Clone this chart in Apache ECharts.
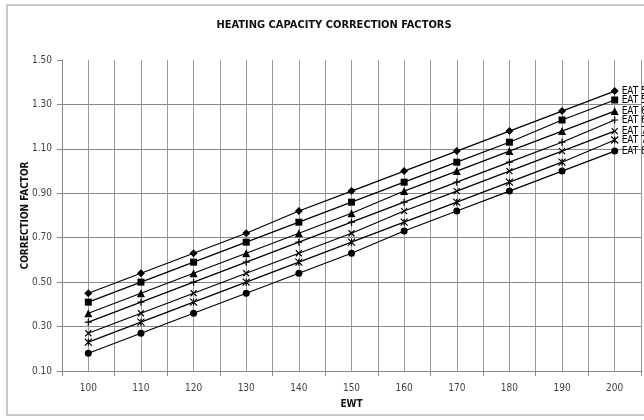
<!DOCTYPE html>
<html>
<head>
<meta charset="utf-8">
<script src="https://cdn.jsdelivr.net/npm/echarts@6/dist/echarts.min.js"></script>
<style>
  html, body { margin: 0; padding: 0; background: #fff; }
  #chart { width: 644px; height: 420px; }
</style>
</head>
<body>
<div id="chart"></div>
<script>
// EWT values along the x axis
var ewt = [100, 110, 120, 130, 140, 150, 160, 170, 180, 190, 200];
// correction factors, one list per entering air temperature
var eat50 = [0.45, 0.54, 0.63, 0.72, 0.82, 0.91, 1.00, 1.09, 1.18, 1.27, 1.36];
var eat55 = [0.41, 0.50, 0.59, 0.68, 0.77, 0.86, 0.95, 1.04, 1.13, 1.23, 1.32];
var eat60 = [0.36, 0.45, 0.54, 0.63, 0.72, 0.81, 0.91, 1.00, 1.09, 1.18, 1.27];
var eat65 = [0.32, 0.41, 0.50, 0.59, 0.68, 0.77, 0.86, 0.95, 1.04, 1.13, 1.23];
var eat70 = [0.27, 0.36, 0.45, 0.54, 0.63, 0.72, 0.82, 0.91, 1.00, 1.09, 1.18];
var eat75 = [0.23, 0.32, 0.41, 0.50, 0.59, 0.68, 0.77, 0.86, 0.95, 1.04, 1.14];
var eat80 = [0.18, 0.27, 0.36, 0.45, 0.54, 0.63, 0.73, 0.82, 0.91, 1.00, 1.09];
var seriesNames = ["EAT 50", "EAT 55", "EAT 60", "EAT 65", "EAT 70", "EAT 75", "EAT 80"];

var chart = echarts.init(document.getElementById("chart"));

function pairs(vals) {
  return vals.map(function (v, i) { return [ewt[i], v]; });
}

var PLUS = "path://M5,0L5,10M0,5L10,5";
var CROSS = "path://M0,0L10,10M10,0L0,10";
var STAR = "path://M0,0L10,10M10,0L0,10M5,0L5,10";

function line(name, vals, symbol, size, stroke) {
  return {
    name: name,
    type: "line",
    xAxisIndex: 0,
    data: pairs(vals),
    symbol: symbol,
    symbolSize: size,
    showAllSymbol: true,
    animation: false,
    lineStyle: { color: "#000", width: 1.2 },
    itemStyle: stroke
      ? { color: "#000", borderColor: "#000", borderWidth: 1.2 }
      : { color: "#000", borderWidth: 0 },
    endLabel: {
      show: true,
      formatter: "{a}",
      distance: 7,
      fontSize: 10,
      color: "#000",
      fontFamily: "DejaVu Sans Condensed"
    }
  };
}

chart.setOption({
  backgroundColor: "#fff",
  title: {
    text: "HEATING CAPACITY CORRECTION FACTORS",
    left: 329,
    top: 15,
    textAlign: "center",
    textStyle: { fontSize: 11, fontWeight: "bold", color: "#111", fontFamily: "DejaVu Sans Condensed" }
  },
  graphic: [{
    type: "rect",
    shape: { x: 7, y: 5, width: 660, height: 410 },
    style: { fill: "none", stroke: "#c8c8c8", lineWidth: 2 },
    silent: true
  }],
  grid: { left: 62, top: 60, right: 2, bottom: 49 },
  xAxis: [{
    type: "value",
    position: "bottom",
    min: 95,
    max: 205,
    interval: 5,
    name: "EWT",
    nameLocation: "middle",
    nameGap: 28,
    nameTextStyle: { fontSize: 10, fontWeight: "bold", color: "#111", fontFamily: "DejaVu Sans Condensed" },
    axisLine: { lineStyle: { color: "#888", width: 1 } },
    axisTick: { show: false },
    axisLabel: {
      fontSize: 10,
      color: "#444",
      margin: 12,
      fontFamily: "DejaVu Sans Condensed",
      formatter: function (v) { return v % 10 === 0 ? String(v) : ""; }
    },
    splitLine: { show: true, showMinLine: false, lineStyle: { color: "#999", width: 1 } }
  }, {
    type: "category",
    position: "bottom",
    data: ewt,
    boundaryGap: true,
    axisLine: { show: false },
    axisTick: { show: true, length: 5, lineStyle: { color: "#888" } },
    axisLabel: { show: false },
    splitLine: { show: false }
  }],
  yAxis: {
    type: "value",
    min: 0.1,
    max: 1.5,
    interval: 0.2,
    name: "CORRECTION FACTOR",
    nameLocation: "middle",
    nameGap: 32,
    nameMoveOverlap: false,
    nameTextStyle: { fontSize: 10, fontWeight: "bold", color: "#111", fontFamily: "DejaVu Sans Condensed" },
    axisLine: { show: true, lineStyle: { color: "#888", width: 1 } },
    axisTick: { show: true, length: 5, lineStyle: { color: "#888" } },
    axisLabel: {
      fontSize: 10,
      color: "#444",
      margin: 10,
      fontFamily: "DejaVu Sans Condensed",
      formatter: function (v) { return v.toFixed(2); }
    },
    splitLine: { show: true, showMinLine: false, showMaxLine: false, lineStyle: { color: "#888", width: 1 } }
  },
  series: [
    line(seriesNames[0], eat50, "diamond", 8, false),
    line(seriesNames[1], eat55, "rect", 7, false),
    line(seriesNames[2], eat60, "triangle", 8, false),
    line(seriesNames[3], eat65, PLUS, 7, true),
    line(seriesNames[4], eat70, CROSS, 6, true),
    line(seriesNames[5], eat75, STAR, 7, true),
    line(seriesNames[6], eat80, "circle", 7, false)
  ]
});
</script>
</body>
</html>
